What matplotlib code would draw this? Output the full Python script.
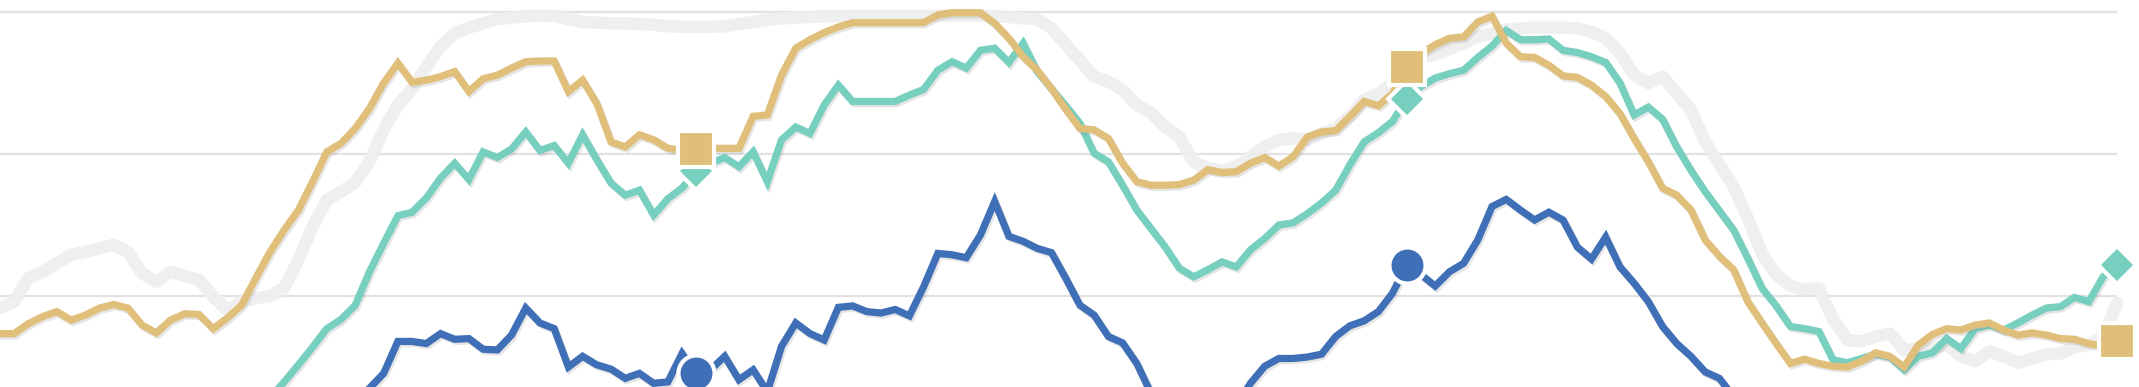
import matplotlib
matplotlib.use("Agg")
import matplotlib.pyplot as plt
import matplotlib.patheffects as pe
import numpy as np

nan = np.nan

# --- data (gridlines sit at 20 / 40 / 60) ---
gold = [
    14.7, 14.7, 16.1, 17.1, 17.8, 16.6, 17.3, 18.3, 18.8, 18.3, 15.9, 14.8, 16.6, 17.5, 17.4, 15.4, 16.9,
    18.7, 22.5, 26.2, 29.3, 32.1, 36.1, 40.3, 41.5, 43.6, 46.4, 50.0, 52.8, 50.1, 50.4, 50.9, 51.6, 48.8,
    50.6, 51.1, 52.1, 53.0, 53.1, 53.1, 48.8, 50.4, 47.1, 41.7, 41.0, 42.7, 42.0, 40.8, 40.5, 40.7,
    40.8, 40.8, 40.8, 45.3, 45.5, 51.1, 54.9, 56.1, 57.1, 57.9, 58.5, 58.5, 58.5, 58.5, 58.5, 58.5, 59.6, 59.9,
    59.9, 59.9, 58.4, 56.3, 53.7, 51.8, 49.2, 46.3, 43.6, 43.4, 42.2, 38.7, 36.1, 35.6, 35.6, 35.7, 36.3,
    37.8, 37.4, 37.5, 38.7, 39.5, 38.3, 39.6, 42.4, 43.1, 43.3, 45.3, 47.4, 46.8, 48.5, 52.3, 54.1, 55.4,
    56.3, 56.5, 58.6, 59.4, 55.6, 53.7, 53.6, 52.5, 51.0, 50.8, 49.7, 48.1, 45.7, 42.2, 38.9, 35.2, 34.2,
    32.1, 27.9, 25.6, 23.7, 19.2, 16.2, 13.3, 10.5, 11.1, 10.5, 10.1, 10.0, 10.8, 12.0, 11.5, 10.0, 13.1,
    14.6, 15.4, 15.2, 15.9, 16.2, 15.2, 14.5, 14.8, 14.5, 14.0, 13.9, 13.3, 12.9, 13.7,
]

teal = [nan] * 19 + [
    5.6, 7.9, 10.3, 12.8, 15.4, 16.7, 18.7, 23.4, 27.4, 31.3, 31.8, 33.8, 36.6, 38.7, 36.4,
    40.3, 39.5, 40.7, 43.1, 40.5, 41.2, 38.7, 42.7, 39.2, 35.9, 34.2, 34.9, 31.4, 33.7, 35.2, 37.6,
    38.7, 39.5, 38.2, 40.3, 36.1, 42.0, 43.8, 42.9, 46.9, 49.7, 47.4, 47.4, 47.4, 47.4, 48.3, 49.1, 51.8, 53.0,
    52.1, 54.6, 54.9, 52.9, 55.6, 51.6, 49.2, 46.8, 44.3, 40.1, 38.9, 35.6, 32.1, 29.5, 26.9, 23.9, 22.7,
    23.7, 24.8, 24.1, 26.5, 28.1, 30.0, 30.3, 31.6, 33.1, 34.9, 38.5, 41.7, 43.0, 44.6, 47.8, 49.5, 50.7,
    51.3, 51.8, 53.6, 55.2, 57.4, 56.1, 56.1, 56.2, 54.6, 54.3, 53.7, 52.9, 50.0, 45.5, 46.6, 44.9, 41.0,
    37.7, 34.7, 32.0, 29.3, 25.3, 21.1, 18.6, 15.7, 15.4, 15.0, 11.0, 10.6, 11.2, 11.8, 11.4, 9.6, 11.5,
    12.0, 14.0, 12.6, 15.4, 15.9, 15.2, 16.2, 17.3, 18.3, 18.5, 19.8, 19.2, 22.7, 24.4,
]

blue = [nan] * 25 + [
    4.0, 7.0, 9.1, 13.6, 13.6, 13.3, 14.7, 13.9, 14.0, 12.5, 12.4, 14.5, 18.3, 16.2, 15.4,
    10.0, 11.5, 10.3, 9.7, 8.4, 9.1, 7.7, 7.9, 11.9, 9.1, 9.6,
    11.5, 8.2, 9.6, 6.5, 12.9, 16.2, 14.7, 13.8, 18.4, 18.6, 17.8, 17.6, 18.1, 17.2, 21.3, 26.0, 25.8,
    25.4, 28.6, 33.3, 28.4, 27.7, 26.7, 26.1, 22.5, 18.7, 17.3, 14.3, 13.4, 10.5, 6.3, 3.0,
    nan, nan, nan, nan, 4.5, 7.7, 10.1, 11.2, 11.2, 11.4, 11.8, 14.3, 15.8, 16.5, 17.8, 20.4, 24.4, 23.0, 21.4,
    23.4, 24.6, 27.9, 32.6, 33.6, 32.1, 30.7, 31.8, 30.7, 26.9, 25.2, 28.3, 24.1, 21.8, 19.2, 15.7, 13.3,
    11.5, 9.3, 8.4, 5.8, 3.0,
] + [nan] * 26

grey = [
    18.3, 19.2, 22.5, 23.4, 24.6, 25.8, 26.2, 26.7, 27.2, 26.2, 23.2, 22.0, 23.4, 22.8, 22.3, 19.9, 18.0,
    19.2, 19.7, 20.0, 21.1, 25.1, 29.8, 33.5, 34.7, 36.0, 38.9, 43.4, 46.9, 49.2, 52.3, 55.1, 57.0, 57.8,
    58.4, 59.0, 59.2, 59.4, 59.5, 59.4, 59.0, 58.6, 58.5, 58.4, 58.4, 58.3, 58.2, 58.0, 57.9, 57.9,
    57.9, 58.0, 58.3, 58.6, 58.9, 59.1, 59.2, 59.3, 59.4, 59.4, 59.5, 59.5, 59.5, 59.5, 59.5, 59.5, 59.5, 59.5,
    59.5, 59.5, 59.4, 59.3, 59.1, 59.0, 57.7, 55.4, 53.2, 50.9, 50.2, 49.0, 46.9, 45.8, 43.8, 42.4, 38.9,
    38.0, 37.7, 38.2, 39.6, 41.0, 42.0, 42.2, 42.0, 42.9, 43.6, 45.3, 47.6, 48.5, 50.0, 51.8, 53.5, 54.0,
    54.8, 55.6, 56.5, 57.0, 57.5, 57.7, 57.8, 57.8, 57.8, 57.7, 57.2, 56.3, 54.2, 51.1, 50.0, 50.9, 48.5,
    46.2, 41.7, 38.5, 35.4, 30.9, 26.0, 23.0, 21.4, 20.9, 21.1, 16.7, 13.8, 13.6, 14.3, 14.7, 12.4, 12.6,
    12.6, 13.1, 11.5, 10.8, 12.2, 11.5, 10.6, 11.2, 11.8, 11.9, 12.8, 13.1, 14.3, 19.0,
]

marker_idx = [49, 99, 149]
grid_values = [20, 40, 60]

c_gold = '#dfbf7a'
c_teal = '#76cfbf'
c_blue = '#3e6fb7'
c_grey = '#eeeeee'


def main():
    x = np.arange(len(gold))
    fig = plt.figure(figsize=(21.39, 3.87), dpi=100)
    ax = fig.add_axes([0, 0, 1, 1])
    ax.set_xlim(0, 150.53)
    ax.set_ylim(7.18, 61.69)
    ax.axis('off')

    ax.hlines(grid_values, 0, x[-1], color='#e2e2e2', lw=1.6, zorder=0)

    shadow = [pe.SimpleLineShadow(offset=(1.2, -1.6), shadow_color='#8a8a8a', alpha=0.22),
              pe.Normal()]

    ax.plot(x, grey, color=c_grey, lw=9, alpha=0.9, zorder=1,
            solid_joinstyle='round', solid_capstyle='round')

    for ys, c, z in [(teal, c_teal, 2), (gold, c_gold, 3), (blue, c_blue, 4)]:
        ax.plot(x, ys, color=c, lw=5.2, zorder=z, solid_joinstyle='miter',
                path_effects=shadow)

    def pick(ys):
        arr = np.asarray(ys, dtype=float)
        idx = [i for i in marker_idx if not np.isnan(arr[i])]
        return x[idx], arr[idx]

    mx, my = pick(teal)
    ax.plot(mx, my, ls='none', marker='D', ms=19, mfc=c_teal, mec='white', mew=3, zorder=5)
    mx, my = pick(gold)
    ax.plot(mx, my, ls='none', marker='s', ms=26, mfc=c_gold, mec='white', mew=3, zorder=6)
    mx, my = pick(blue)
    ax.plot(mx, my, ls='none', marker='o', ms=26, mfc=c_blue, mec='white', mew=3, zorder=7)

    fig.savefig('out.png', dpi=100, facecolor='white')


if __name__ == '__main__':
    main()
